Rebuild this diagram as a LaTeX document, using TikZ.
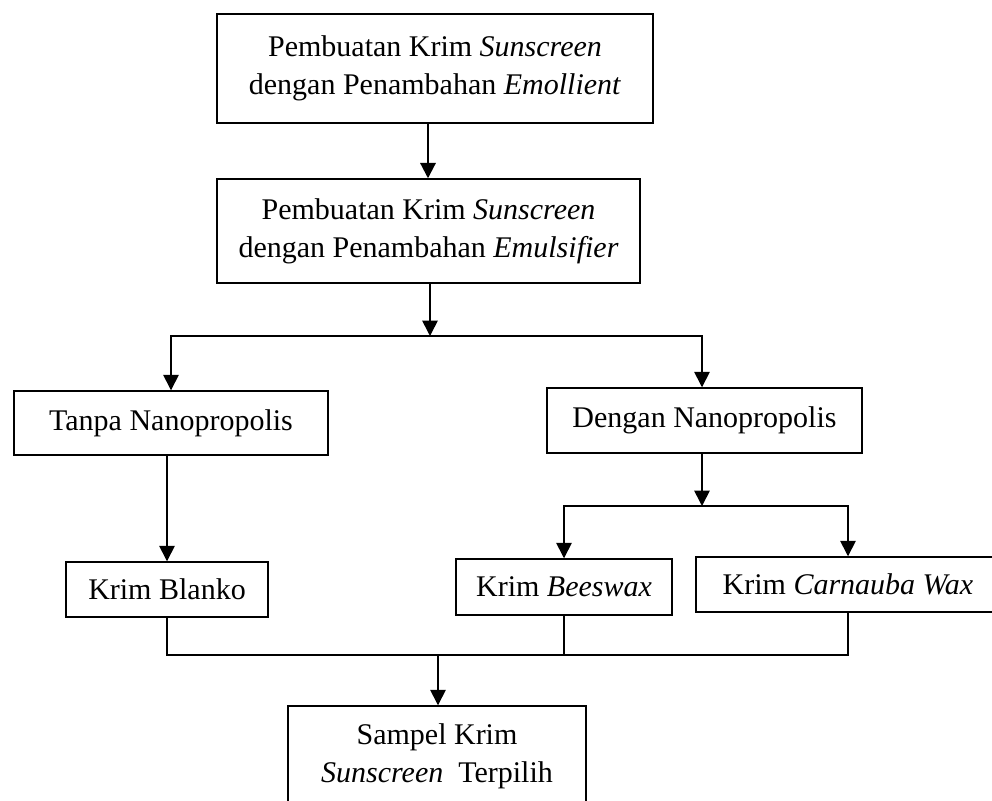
\documentclass[tikz,border=0pt]{standalone}
\usepackage{fontspec}
\setmainfont{Liberation Serif}
\usetikzlibrary{arrows.meta}
\tikzset{
  box/.style={draw=black, line width=1.1pt, rectangle, align=center, inner sep=0pt,
    font=\fontsize{22.5pt}{28.5pt}\selectfont},
  arr/.style={draw=black, line width=1.2pt, -{Triangle[length=11.5pt,width=11.5pt]}},
  conn/.style={draw=black, line width=1pt},
}
\begin{document}
\begin{tikzpicture}[x=0.75pt,y=-0.75pt]
\clip (0,0) rectangle (992,800);
\fill[white] (0,0) rectangle (992,800);
\node[box, minimum width=436*0.75pt, minimum height=109*0.75pt] (box1) at (435,68.5)
  {Pembuatan Krim \textit{Sunscreen}\\dengan Penambahan \textit{Emollient}};
\node[box, minimum width=423*0.75pt, minimum height=104*0.75pt] (box2) at (428.5,231)
  {Pembuatan Krim \textit{Sunscreen}\\dengan Penambahan \textit{Emulsifier}};
\node[box, minimum width=314*0.75pt, minimum height=64*0.75pt] (tanpa) at (171,423)
  {Tanpa Nanopropolis};
\node[box, minimum width=315*0.75pt, minimum height=65*0.75pt] (dengan) at (704.5,420.5)
  {Dengan Nanopropolis};
\node[box, minimum width=202*0.75pt, minimum height=55*0.75pt] (blanko) at (167,589.5)
  {Krim Blanko};
\node[box, minimum width=216*0.75pt, minimum height=56*0.75pt] (bees) at (564,587)
  {Krim \textit{Beeswax}};
\node[box, minimum width=304*0.75pt, minimum height=55*0.75pt] (carn) at (848,584.5)
  {Krim \textit{Carnauba Wax}};
\node[box, minimum width=298*0.75pt, minimum height=100*0.75pt] (sampel) at (437,756)
  {Sampel Krim\\\textit{Sunscreen}\ \ Terpilih};
\coordinate (j1) at (430,336);
\coordinate (j2) at (702,506);
\coordinate (j3) at (438,655);
\coordinate (a1) at (428,0);
\draw[arr, line width=1.6pt] (box1.south -| a1) -- (box2.north -| a1);
\draw[arr] (box2.south -| j1) -- (j1);
\draw[arr] (j1) -| (tanpa.north);
\draw[arr] (j1) -| (dengan.north -| j2);
\draw[arr] (dengan.south -| j2) -- (j2);
\draw[arr] (j2) -| (bees.north);
\draw[arr] (j2) -| (carn.north);
\draw[arr] (tanpa.south -| blanko.north) -- (blanko.north);
\draw[conn] (blanko.south) |- (carn.south |- j3) -- (carn.south);
\draw[conn] (bees.south) -- (bees.south |- j3);
\draw[arr] (j3) -- (sampel.north -| j3);
\end{tikzpicture}
\end{document}
